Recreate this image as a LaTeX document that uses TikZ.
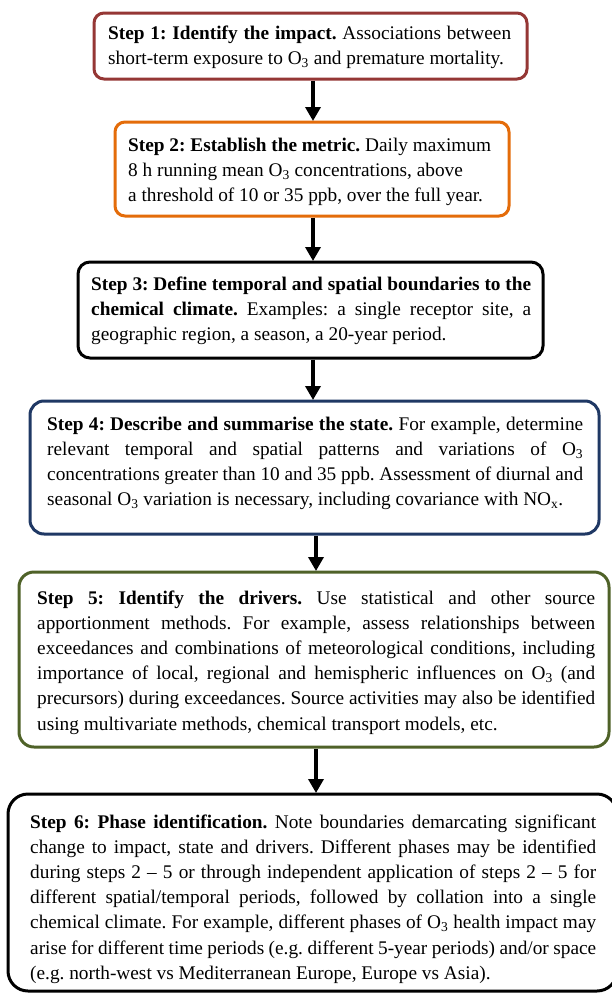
\documentclass[tikz,border=0pt]{standalone}
\usepackage{fontspec}
\setmainfont{Liberation Serif}
\usetikzlibrary{arrows.meta}
\definecolor{cred}{HTML}{953735}
\definecolor{corange}{HTML}{E46C0A}
\definecolor{cblue}{HTML}{1F3864}
\definecolor{cgreen}{HTML}{4F6228}
\newcommand{\jl}[1]{\makebox[\linewidth][s]{#1}}
\newcommand{\Othree}{O\textsubscript{3}}
\frenchspacing
\begin{document}
\begin{tikzpicture}[x=1pt,y=-1pt,
  stepbox/.style={draw, line width=3pt, fill=white, inner sep=0pt},
  steptext/.style={anchor=base west, inner sep=0pt, font=\fontsize{19.3}{25.2}\selectfont\frenchspacing},
  arr/.style={line width=3.4pt, -{Triangle[width=15pt,length=14pt]}, shorten >=-0.5pt}]
\useasboundingbox (0,0) rectangle (612,993);
\fill[white] (0,0) rectangle (612,993);
% boxes
\node[stepbox, draw=cred, rounded corners=10pt, minimum width=433pt, minimum height=66pt] (b1) at (310.5,46) {};
\node[stepbox, draw=corange, rounded corners=10pt, minimum width=394pt, minimum height=94pt] (b2) at (312,169) {};
\node[stepbox, draw=black, rounded corners=12pt, minimum width=465pt, minimum height=96pt] (b3) at (310.5,310) {};
\node[stepbox, draw=cblue, rounded corners=14pt, minimum width=569pt, minimum height=133pt] (b4) at (314.5,467.5) {};
\node[stepbox, draw=cgreen, rounded corners=15pt, minimum width=590pt, minimum height=175pt] (b5) at (314,659.5) {};
\node[stepbox, draw=black, rounded corners=20pt, minimum width=609pt, minimum height=197pt] (b6) at (312.5,892.5) {};
% texts
\node[steptext] (t1) at (108,39.5) {\parbox[t]{403pt}{%
\jl{\textbf{Step 1: Identify the impact.} Associations between}\\
short-term exposure to \Othree{} and premature mortality.}};
\node[steptext] (t2) at (128,151) {\parbox[t]{370pt}{%
\textbf{Step 2: Establish the metric.} Daily maximum\\
8 h running mean \Othree{} concentrations, above\\
a threshold of 10 or 35 ppb, over the full year.}};
\node[steptext] (t3) at (91,290) {\parbox[t]{440pt}{%
\jl{\textbf{Step 3: Define temporal and spatial boundaries to the}}\\
\jl{\textbf{chemical climate.} Examples: a single receptor site, a}\\
geographic region, a season, a 20-year period.}};
\node[steptext] (t4) at (47,430) {\parbox[t]{536pt}{%
\jl{\textbf{Step 4: Describe and summarise the state.} For example, determine}\\
\jl{relevant temporal and spatial patterns and variations of \Othree}\\
\jl{concentrations greater than 10 and 35 ppb. Assessment of diurnal and}\\
seasonal \Othree{} variation is necessary, including covariance with NO\textsubscript{x}.}};
\node[steptext] (t5) at (37,604) {\parbox[t]{558pt}{%
\jl{\textbf{Step 5: Identify the drivers.} Use statistical and other source}\\
\jl{apportionment methods. For example, assess relationships between}\\
\jl{exceedances and combinations of meteorological conditions, including}\\
\jl{importance of local, regional and hemispheric influences on \Othree{} (and}\\
\jl{precursors) during exceedances. Source activities may also be identified}\\
using multivariate methods, chemical transport models, etc.}};
\node[steptext] (t6) at (30,828) {\parbox[t]{566pt}{%
\jl{\textbf{Step 6: Phase identification.} Note boundaries demarcating significant}\\
\jl{change to impact, state and drivers. Different phases may be identified}\\
\jl{during steps 2 – 5 or through independent application of steps 2 – 5 for}\\
\jl{different spatial/temporal periods, followed by collation into a single}\\
\jl{chemical climate. For example, different phases of \Othree{} health impact may}\\
\jl{arise for different time periods (e.g. different 5-year periods) and/or space}\\
(e.g. north-west vs Mediterranean Europe, Europe vs Asia).}};
% arrow axes
\coordinate (ax1) at (313,0);
\coordinate (ax2) at (316,0);
\draw[arr] (b1.south -| ax1) -- (b2.north -| ax1);
\draw[arr] (b2.south -| ax1) -- (b3.north -| ax1);
\draw[arr] (b3.south -| ax1) -- (b4.north -| ax1);
\draw[arr] (b4.south -| ax2) -- (b5.north -| ax2);
\draw[arr] (b5.south -| ax2) -- (b6.north -| ax2);
\end{tikzpicture}
\end{document}
